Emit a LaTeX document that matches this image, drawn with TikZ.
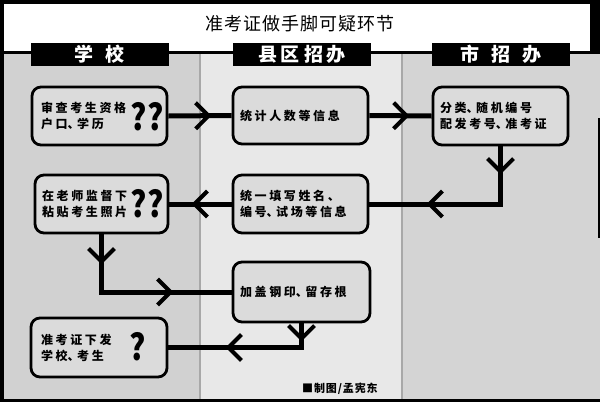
\documentclass[tikz,border=0pt]{standalone}
\usepackage{fontspec}
\usepackage{graphicx}
\usetikzlibrary{arrows.meta,decorations.markings}
\newfontfamily\cjk{Noto Sans CJK SC}
\definecolor{colA}{gray}{0.82}
\definecolor{colB}{gray}{0.91}
\definecolor{colC}{gray}{0.83}
\definecolor{nodefill}{gray}{0.86}
\definecolor{sepline}{gray}{0.66}
\newcommand\bodyfont{\cjk\bfseries\fontsize{12}{16}\selectfont\addfontfeatures{LetterSpace=22}}
\newcommand\titlefont{\cjk\fontsize{18}{20}\selectfont\addfontfeatures{LetterSpace=5}}
\newcommand\hdrfont{\cjk\bfseries\fontsize{19}{20}\selectfont}
\newcommand\qfont{\cjk\bfseries\fontsize{36}{36}\selectfont}
\newcommand\creditfont{\cjk\bfseries\fontsize{11}{12}\selectfont\addfontfeatures{LetterSpace=8}}
\newcommand\dun{\makebox[9.5pt][l]{、}}
\begin{document}
\begin{tikzpicture}[x=1pt,y=-1pt,
  box/.style={draw=black,line width=2.8pt,rounded corners=9pt,fill=nodefill,
    align=left,inner xsep=8pt,inner ysep=0pt,font=\bodyfont},
  hdr/.style={fill=black,text=white,minimum width=138pt,minimum height=23pt,
    inner sep=0pt,font=\hdrfont},
  qmark/.style={inner sep=0pt,font=\qfont},
  chev/.tip={Straight Barb[length=13pt,width=26pt,line width=4pt]},
  conn/.style={draw=black,line width=5pt,line join=miter,postaction={decorate}},
]
\useasboundingbox (0,0) rectangle (600,402);
% background
\fill[colA] (4,54) rectangle (200,399);
\fill[colB] (200,54) rectangle (402,399);
\fill[colC] (402,54) rectangle (600,399);
\fill[white] (4,4) rectangle (590,51);
\fill[black] (0,0) rectangle (600,4);
\fill[black] (0,0) rectangle (4,402);
\fill[black] (590,0) rectangle (600,54);
\fill[black] (4,51) rectangle (590,54);
\fill[black] (0,399) rectangle (600,402);
\draw[sepline,line width=1.5pt] (200,54) -- (200,399);
\draw[sepline,line width=1.5pt] (402,54) -- (402,399);
\draw[black,line width=1.5pt] (599,118) -- (599,238);
% title and headers
\node[font=\titlefont] (title) at (300,24) {准考证做手脚可疑环节};
\node[hdr] (h1) at (99.5,54.5) {学\hspace{13pt}校};
\node[hdr] (h2) at (302,54.5) {县\hspace{4pt}区\hspace{4pt}招\hspace{4pt}办};
\node[hdr] (h3) at (501,54.5) {市\hspace{12pt}招\hspace{12pt}办};
% nodes
\node[box,minimum width=135pt,minimum height=58pt,text width=117pt,inner xsep=9pt] (n1) at (99.5,116) {审查考生资格\\户口\dun 学历};
\node[box,minimum width=135pt,minimum height=57pt,text width=121pt,inner xsep=7pt] (n2) at (300.5,115.5) {统计人数等信息};
\node[box,minimum width=135pt,minimum height=58pt,text width=121pt,inner xsep=7pt] (n3) at (500.5,116) {分类\dun 随机编号\\配发考号\dun 准考证};
\node[box,minimum width=135pt,minimum height=58pt,text width=121pt,inner xsep=7pt] (n4) at (300.5,204) {统一填写姓名、\\编号\dun 试场等信息};
\node[box,minimum width=133pt,minimum height=58pt,text width=119pt,inner xsep=7pt] (n5) at (101.5,204) {在老师监督下\\粘贴考生照片};
\node[box,minimum width=137pt,minimum height=60pt,text width=123pt,inner xsep=7pt] (n6) at (301.5,292) {加盖钢印\dun 留存根};
\node[box,minimum width=136pt,minimum height=59pt,text width=116pt,inner xsep=10pt] (n7) at (99,347.5) {准考证下发\\学校\dun 考生};
% question marks
\node[qmark] (q1) at (147,117) {\scalebox{0.85}[1]{??}};
\node[qmark] (q5) at (147,204) {\scalebox{0.85}[1]{??}};
\node[qmark] (q7) at (138,347) {\scalebox{0.85}[1]{?}};
% credit
\node[anchor=west,inner sep=0pt,font=\creditfont] (credit) at (302,389) {■制图/孟宪东};
% connectors
\draw[conn,decoration={markings,mark=at position 43pt with {\arrow{chev}}}] (n1.east) -- (n2.west);
\draw[conn,decoration={markings,mark=at position 40pt with {\arrow{chev}}}] (n2.east) -- (n3.west);
\draw[conn,decoration={markings,mark=at position 28pt with {\arrow{chev}},mark=at position 131.5pt with {\arrow{chev}}}] (n3.south) |- (n4.east);
\draw[conn,decoration={markings,mark=at position 40pt with {\arrow{chev}}}] (n4.west) -- (n5.east);
\draw[conn,decoration={markings,mark=at position 30pt with {\arrow{chev}},mark=at position 129.5pt with {\arrow{chev}}}] (n5.south) |- (n6.west);
\draw[conn,decoration={markings,mark=at position 18pt with {\arrow{chev}},mark=at position 100pt with {\arrow{chev}}}] (n6.south) |- (n7.east);
\end{tikzpicture}
\end{document}
